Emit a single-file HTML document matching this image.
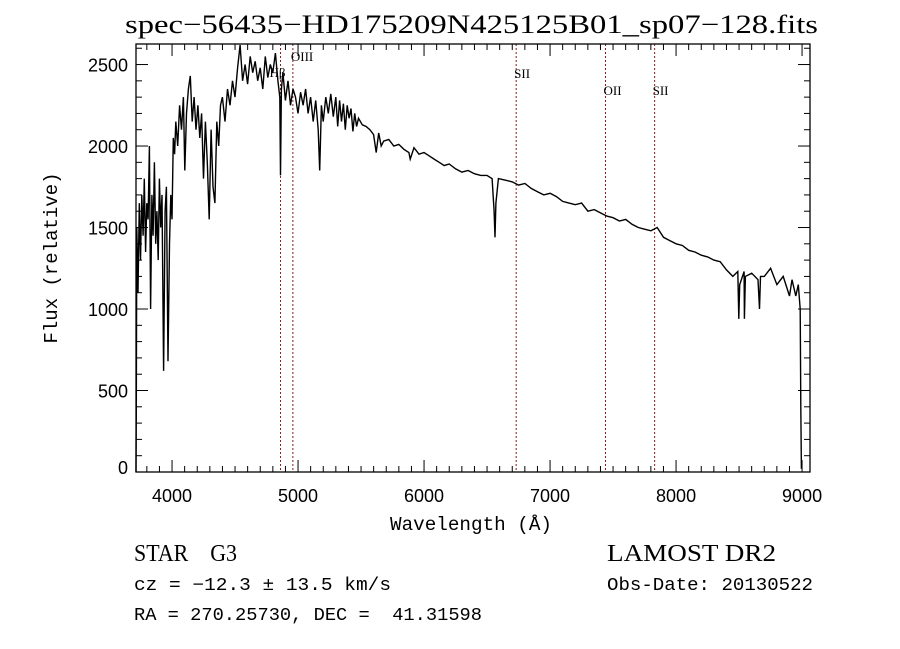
<!DOCTYPE html>
<html><head><meta charset="utf-8">
<style>
html,body{margin:0;padding:0;background:#fff;}
svg{display:block;}
.serif{font-family:"Liberation Serif",serif;}
.mono{font-family:"Liberation Mono",monospace;white-space:pre;}
</style></head>
<body>
<svg id="chart" width="900" height="649" viewBox="0 0 900 649" xmlns="http://www.w3.org/2000/svg">
<rect width="900" height="649" fill="#fff"/>
<text x="125" y="33" textLength="693" lengthAdjust="spacingAndGlyphs" class="serif" font-size="26">spec−56435−HD175209N425125B01_sp07−128.fits</text>
<g id="lines"></g>
<g id="spec"></g>
<g id="axes"></g>
<text x="390" y="530" textLength="162" lengthAdjust="spacingAndGlyphs" class="mono" font-size="19">Wavelength (Å)</text>
<text transform="translate(57,258) rotate(-90)" text-anchor="middle" class="mono" font-size="19">Flux (relative)</text>
<text x="134" y="561" textLength="103" lengthAdjust="spacingAndGlyphs" class="serif" font-size="24" xml:space="preserve">STAR    G3</text>
<text x="607" y="561" textLength="169" lengthAdjust="spacingAndGlyphs" class="serif" font-size="24">LAMOST DR2</text>
<text x="134" y="590" textLength="257" lengthAdjust="spacingAndGlyphs" class="mono" font-size="18">cz = −12.3 ± 13.5 km/s</text>
<text x="607" y="590" textLength="206" lengthAdjust="spacingAndGlyphs" class="mono" font-size="18">Obs-Date: 20130522</text>
<text x="134" y="620" textLength="348" lengthAdjust="spacingAndGlyphs" class="mono" font-size="18" xml:space="preserve">RA = 270.25730, DEC =  41.31598</text>
</svg>
<script>
const wave=[3714,3716,3720,3730,3740,3750,3760,3770,3780,3790,3800,3810,3820,3830,3840,3850,3860,3870,3880,3890,3900,3910,3920,3933,3945,3955,3968,3980,3990,4000,4010,4020,4030,4045,4060,4075,4090,4101,4115,4130,4145,4160,4175,4190,4205,4220,4235,4250,4265,4280,4295,4310,4325,4340,4355,4370,4385,4400,4420,4440,4460,4480,4500,4520,4540,4560,4580,4600,4620,4640,4660,4680,4700,4720,4740,4760,4780,4800,4820,4840,4855,4861,4868,4880,4900,4920,4940,4960,4980,5000,5020,5040,5060,5080,5100,5120,5140,5160,5172,5185,5200,5220,5240,5260,5280,5300,5315,5330,5345,5360,5375,5390,5405,5420,5435,5450,5465,5480,5510,5540,5570,5600,5620,5640,5660,5680,5720,5760,5800,5840,5880,5890,5920,5960,6000,6040,6080,6120,6160,6200,6250,6300,6350,6400,6450,6500,6540,6556,6563,6570,6590,6650,6700,6750,6800,6850,6900,6950,7000,7050,7100,7150,7200,7250,7300,7350,7400,7450,7500,7550,7600,7650,7700,7750,7800,7850,7900,7950,8000,8050,8100,8150,8200,8250,8300,8350,8400,8450,8490,8498,8505,8540,8542,8550,8600,8650,8662,8670,8700,8750,8800,8850,8900,8920,8950,8970,8985,8990,8995];
const flux=[0,400,1500,1100,1650,1300,1700,1450,1800,1350,1650,1550,2000,1000,1700,1450,1900,1400,1600,1300,1800,1500,1700,620,1600,1750,680,1400,1700,1550,2050,1950,2150,2000,2250,2100,2300,1850,2200,2350,2430,2150,2300,2100,2250,2050,2200,1800,2150,1900,1550,2100,1750,1650,2150,2000,2250,2300,2150,2350,2250,2400,2300,2480,2620,2400,2500,2380,2550,2450,2520,2400,2480,2350,2550,2420,2500,2450,2570,2400,2300,1820,2350,2450,2280,2400,2250,2350,2300,2200,2330,2250,2350,2200,2300,2150,2280,2100,1850,2250,2150,2300,2200,2320,2180,2300,2120,2280,2150,2260,2100,2250,2170,2230,2090,2200,2120,2170,2130,2120,2100,2070,1960,2080,2000,2030,2040,2000,2010,1980,1960,1920,1990,1950,1960,1940,1920,1900,1880,1890,1860,1840,1850,1830,1820,1820,1800,1600,1440,1650,1800,1790,1780,1760,1770,1740,1720,1700,1710,1690,1660,1650,1640,1650,1600,1610,1590,1570,1560,1540,1550,1520,1500,1490,1480,1500,1440,1420,1400,1390,1360,1350,1330,1320,1300,1290,1240,1200,1230,940,1150,1230,940,1200,1220,1180,1000,1200,1200,1250,1150,1200,1080,1180,1080,1150,1000,400,20];
const lineWaves=[4861,4959,6731,7440,7830];
const lineNames=["Hβ","OIII","SII","OII","SII"];
const lineLabelY=[77,61,78,95,95];
const xTicks=[4000,5000,6000,7000,8000,9000];
const yTicks=[0,500,1000,1500,2000,2500];

const L=136,R=810,T=44,B=472,XMIN=3714,XMAX=9063,YMIN=0,YMAX=2626;
const sx=w=>L+(w-XMIN)/(XMAX-XMIN)*(R-L);
const sy=f=>B-(f-YMIN)/(YMAX-YMIN)*(B-T);
const NS="http://www.w3.org/2000/svg";
function mk(tag,attrs,parent){const e=document.createElementNS(NS,tag);for(const k in attrs)e.setAttribute(k,attrs[k]);parent.appendChild(e);return e;}

const spec=document.getElementById('spec');
let d='';
for(let i=0;i<wave.length;i++){const x=sx(wave[i]).toFixed(1),y=sy(Math.max(flux[i],YMIN)).toFixed(1);d+=(i?'L':'M')+x+' '+y;}
const p=mk('path',{d:d,fill:'none',stroke:'#000','stroke-width':'1.4','stroke-linejoin':'miter'},spec);



const lines=document.getElementById('lines');
lineWaves.forEach((w,i)=>{
  const l=mk('line',{x1:sx(w),x2:sx(w),y1:T,y2:B,stroke:'#8b1a1a','stroke-width':'1','stroke-dasharray':'2,2'},lines);
  
  
  const t=mk('text',{x:sx(w)+(i===0?-11:-2),y:lineLabelY[i],'font-size':'13','font-family':'Liberation Serif, serif'},lines);
  t.textContent=lineNames[i];
  
  
});

const axes=document.getElementById('axes');
const frame=mk('rect',{x:L,y:T,width:R-L,height:B-T,fill:'none',stroke:'#000','stroke-width':'1.3'},axes);


for(let w=3800;w<=XMAX;w+=100){
  const x=sx(w),maj=(w%1000===0),len=maj?12:6;
  mk('line',{x1:x,x2:x,y1:B,y2:B-len,stroke:'#000','stroke-width':'1'},axes);
  mk('line',{x1:x,x2:x,y1:T,y2:T+len,stroke:'#000','stroke-width':'1'},axes);
}
xTicks.forEach(v=>{
  const t=mk('text',{x:sx(v),y:B+30,'text-anchor':'middle','font-size':'18','font-family':'Liberation Sans, sans-serif'},axes);
  t.textContent=v;
  
  
});
for(let f=0;f<=YMAX;f+=100){
  const y=sy(f),maj=(f%500===0),len=maj?12:6;
  mk('line',{x1:L,x2:L+len,y1:y,y2:y,stroke:'#000','stroke-width':'1'},axes);
  mk('line',{x1:R,x2:R-len,y1:y,y2:y,stroke:'#000','stroke-width':'1'},axes);
}
yTicks.forEach(v=>{
  const t=mk('text',{x:L-8,y:sy(v)+(v===0?2:7),'text-anchor':'end','font-size':'18','font-family':'Liberation Sans, sans-serif'},axes);
  t.textContent=v;
  
  
});
</script>
</body></html>
